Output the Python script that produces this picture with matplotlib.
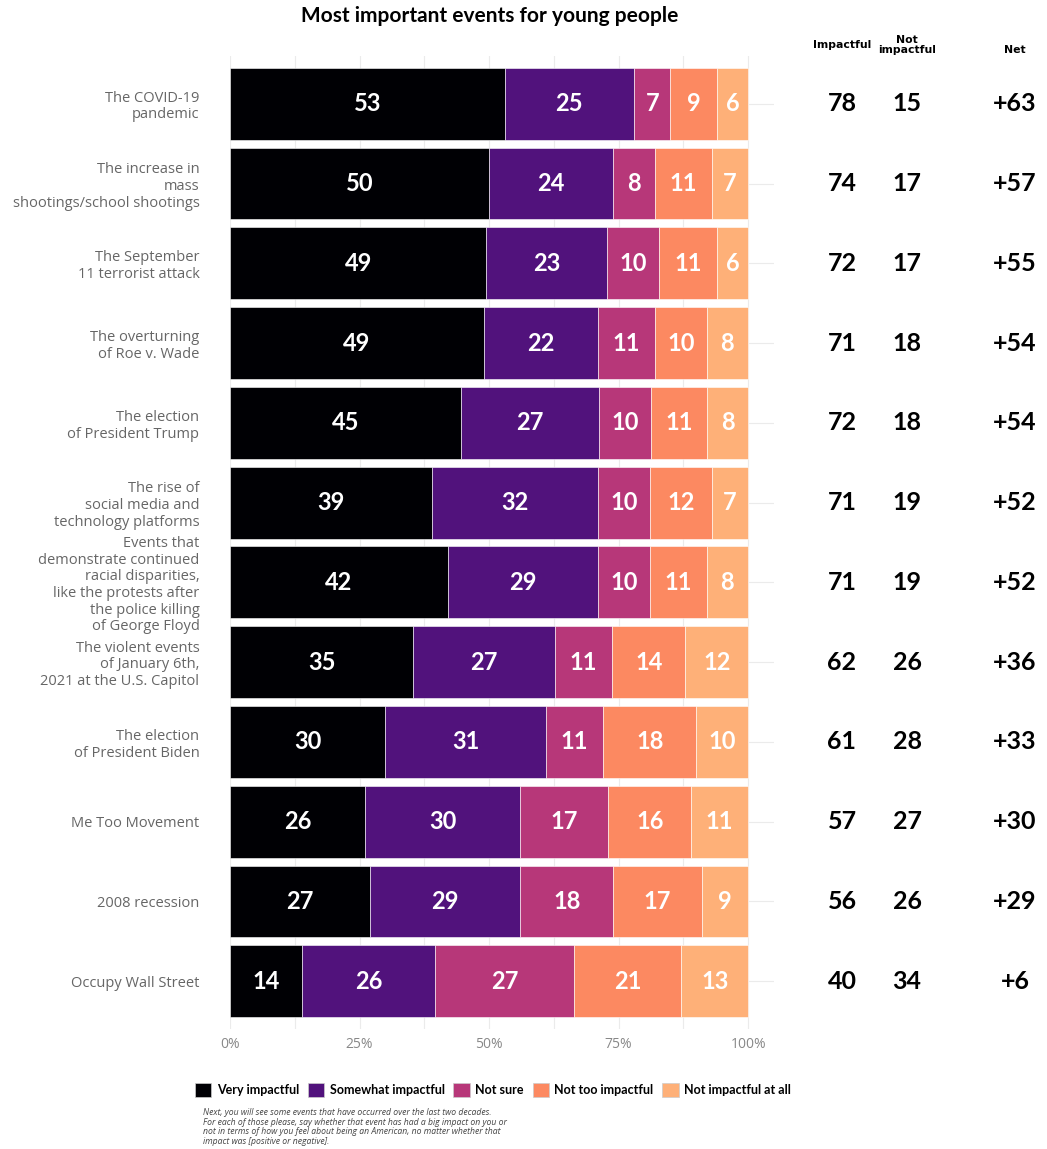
import numpy as np
import matplotlib.pyplot as plt
from matplotlib.transforms import blended_transform_factory
from matplotlib.patches import Patch

events = [
    "The COVID-19\npandemic",
    "The increase in\nmass\nshootings/school shootings",
    "The September\n11 terrorist attack",
    "The overturning\nof Roe v. Wade",
    "The election\nof President Trump",
    "The rise of\nsocial media and\ntechnology platforms",
    "Events that\ndemonstrate continued\nracial disparities,\nlike the protests after\nthe police killing\nof George Floyd",
    "The violent events\nof January 6th,\n2021 at the U.S. Capitol",
    "The election\nof President Biden",
    "Me Too Movement",
    "2008 recession",
    "Occupy Wall Street",
]
categories = ["Very impactful", "Somewhat impactful", "Not sure",
              "Not too impactful", "Not impactful at all"]
very = [53, 50, 49, 49, 45, 39, 42, 35, 30, 26, 27, 14]
somewhat = [25, 24, 23, 22, 27, 32, 29, 27, 31, 30, 29, 26]
not_sure = [7, 8, 10, 11, 10, 10, 10, 11, 11, 17, 18, 27]
not_too = [9, 11, 11, 10, 11, 12, 11, 14, 18, 16, 17, 21]
not_at_all = [6, 7, 6, 8, 8, 7, 8, 12, 10, 11, 9, 13]
impactful = [78, 74, 72, 71, 72, 71, 71, 62, 61, 57, 56, 40]
not_impactful = [15, 17, 17, 18, 18, 19, 19, 26, 28, 27, 26, 34]
net = [63, 57, 55, 54, 54, 52, 52, 36, 33, 30, 29, 6]

colors = ["#000004", "#51127C", "#B73779", "#FC8961", "#FEB078"]

vals = np.array([very, somewhat, not_sure, not_too, not_at_all], dtype=float)
shares = vals / vals.sum(axis=0)

fig = plt.figure(figsize=(10.47, 11.49), dpi=100)
ax = fig.add_axes([0.2197, 0.1044, 0.5196, 0.8469])

y = np.arange(len(events))
left = np.zeros(len(events))
for i, cat in enumerate(categories):
    ax.barh(y, shares[i], left=left, height=0.9, color=colors[i],
            edgecolor="white", linewidth=0.4, label=cat, zorder=2)
    for j in range(len(events)):
        ax.text(left[j] + shares[i][j] / 2, y[j], str(int(vals[i][j])),
                ha="center", va="center", color="white",
                fontsize=17, fontweight="bold", family="Lato", zorder=3)
    left += shares[i]

ax.set_xlim(0, 1.05)
ax.set_ylim(len(events) - 0.4, -0.6)
ax.set_yticks(y)
ax.set_yticklabels(events, fontsize=10.5, color="#666666", family="Open Sans",
                   linespacing=1.15)
ax.set_xticks([0, 0.25, 0.5, 0.75, 1.0])
ax.set_xticklabels(["0%", "25%", "50%", "75%", "100%"], fontsize=10,
                   color="#888888", family="Open Sans")
ax.set_xticks([0.125, 0.375, 0.625, 0.875], minor=True)
ax.tick_params(axis="both", length=0, pad=22, which="both")
ax.tick_params(axis="x", pad=6)
ax.grid(True, which="both", color="#ebebeb", linewidth=0.8, zorder=0)
for s in ax.spines.values():
    s.set_visible(False)

trans = blended_transform_factory(fig.transFigure, ax.transData)
for j in range(len(events)):
    ax.text(842 / 1047, y[j], str(impactful[j]), transform=trans, ha="center",
            va="center", fontsize=18, fontweight="bold", family="Lato")
    ax.text(907 / 1047, y[j], str(not_impactful[j]), transform=trans, ha="center",
            va="center", fontsize=18, fontweight="bold", family="Lato")
    ax.text(1015 / 1047, y[j], "+" + str(net[j]), transform=trans, ha="center",
            va="center", fontsize=18, fontweight="bold", family="Lato")

fig.text(842 / 1047, 1 - 45 / 1149, "Impactful", ha="center", va="center",
         fontsize=7.8, fontweight="bold")
fig.text(907 / 1047, 1 - 45 / 1149, "Not\nimpactful", ha="center", va="center",
         fontsize=7.8, fontweight="bold", linespacing=1.0)
fig.text(1015 / 1047, 1 - 50 / 1149, "Net", ha="center", va="center",
         fontsize=7.8, fontweight="bold")

fig.text(490 / 1047, 1 - 16 / 1149, "Most important events for young people",
         ha="center", va="center", fontsize=15, fontweight="bold", family="Lato")

handles = [Patch(facecolor=c, edgecolor="#cccccc", linewidth=0.5) for c in colors]
fig.legend(handles, categories, loc="center", bbox_to_anchor=(493 / 1047, 1 - 1090 / 1149),
           ncol=5, frameon=False, handlelength=1.3, handleheight=1.3,
           columnspacing=0.7, handletextpad=0.45,
           prop={"family": "Lato", "weight": "bold", "size": 9})

fig.text(203 / 1047, 1 - 1127 / 1149,
         "Next, you will see some events that have occurred over the last two decades.\n"
         "For each of those please, say whether that event has had a big impact on you or\n"
         "not in terms of how you feel about being an American, no matter whether that\n"
         "impact was [positive or negative].",
         ha="left", va="center", fontsize=6.2, style="italic", color="#444444",
         family="Open Sans", linespacing=1.1)

fig.savefig("out.png", dpi=100, facecolor="white")
